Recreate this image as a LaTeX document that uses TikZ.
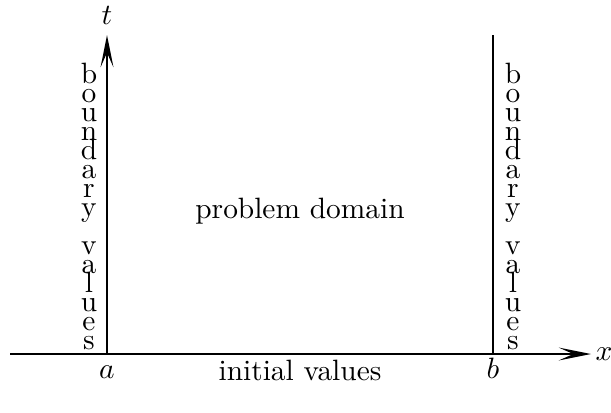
\documentclass[tikz,border=0pt]{standalone}
\usetikzlibrary{arrows.meta}
\begin{document}
\begin{tikzpicture}[x=0.34pt,y=-0.34pt,
  axis/.style={line width=0.6pt,-{Stealth[length=11pt,width=4.4pt,inset=5pt]}},
  bline/.style={line width=0.6pt},
  lbl/.style={inner sep=0pt,font=\fontsize{10}{12}\selectfont},
  ltr/.style={inner sep=0pt,anchor=base,font=\fontsize{10}{12}\selectfont}]
\useasboundingbox (0,0) rectangle (611,412);
\coordinate (o) at (107,354);
\coordinate (xs) at (10,354);
\coordinate (xe) at (591,354);
\coordinate (te) at (107,35);
\coordinate (bb) at (493,354);
\coordinate (bt) at (493,35);
\draw[axis] (xs) -- (xe);
\draw[axis] (o) -- (te);
\draw[bline] (bb) -- (bt);
\node[lbl] (tl) at (107,15) {$t$};
\node[lbl] (xl) at (604,354) {$x$};
\node[lbl,anchor=base] (al) at (107,378) {$a$};
\node[lbl,anchor=base] (bl) at (493,378) {$b$};
\node[lbl,anchor=base] (iv) at (300,380) {initial values};
\node[lbl] (pd) at (300,211) {problem domain};
\foreach \c [count=\i from 0] in {b,o,u,n,d,a,r,y,{},v,a,l,u,e,s}{
  \node[ltr] (l\i) at (89,83+19*\i) {\c};
  \node[ltr] (r\i) at (513,83+19*\i) {\c};
}
\end{tikzpicture}
\end{document}
